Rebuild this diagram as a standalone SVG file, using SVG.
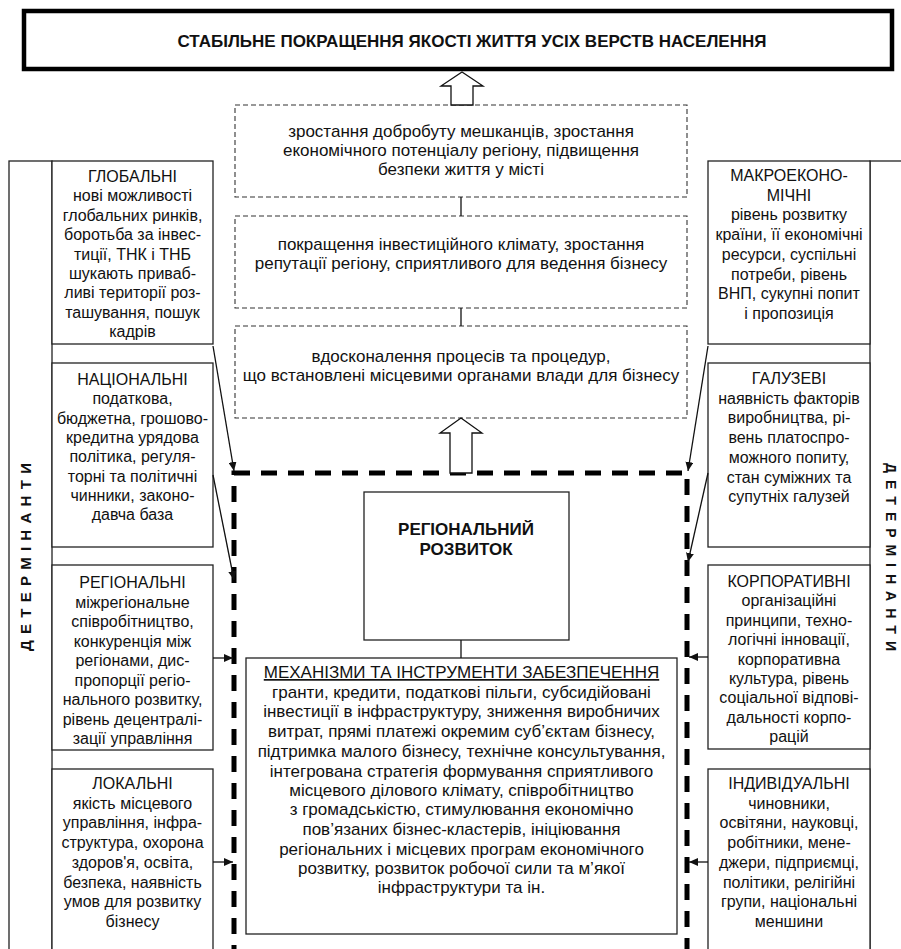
<svg xmlns="http://www.w3.org/2000/svg" width="901" height="949" viewBox="0 0 901 949">
<defs>
<style>
.t{font-family:"Liberation Sans",Arial,sans-serif;font-size:16px;fill:#111;text-anchor:middle}
.c{font-size:17px}
.b{font-weight:bold}
.box{fill:#fff;stroke:#222;stroke-width:1.3}
.dbox{fill:#fff;stroke:#333;stroke-width:1.1;stroke-dasharray:5 3}
.ln{stroke:#111;stroke-width:1.3;fill:none}
.hol{fill:#fff;stroke:#111;stroke-width:1.3}
.v{font-family:"Liberation Sans",Arial,sans-serif;font-size:15px;font-weight:bold;fill:#111;text-anchor:middle}
</style>
<marker id="ah" markerUnits="userSpaceOnUse" markerWidth="10" markerHeight="8" refX="9" refY="4" orient="auto">
<path d="M0,0 L9,4 L0,8 z" fill="#111"/>
</marker>
</defs>
<rect width="901" height="949" fill="#fff"/>

<g id="goal">
<rect x="24" y="11" width="868" height="58" fill="#fff" stroke="#000" stroke-width="4.5"/>
<text class="t b" x="472" y="47" style="font-size:17px" textLength="589" lengthAdjust="spacingAndGlyphs">СТАБІЛЬНЕ ПОКРАЩЕННЯ ЯКОСТІ ЖИТТЯ УСІХ ВЕРСТВ НАСЕЛЕННЯ</text>
</g>

<g id="result1">
<rect class="dbox" x="235" y="105" width="452" height="92"/>
<text class="t c" x="461" y="137">зростання добробуту мешканців, зростання</text>
<text class="t c" x="461" y="156">економічного потенціалу регіону, підвищення</text>
<text class="t c" x="461" y="175">безпеки життя у місті</text>
</g>
<g id="result2">
<rect class="dbox" x="235" y="216" width="452" height="92"/>
<text class="t c" x="461" y="250">покращення інвестиційного клімату, зростання</text>
<text class="t c" x="461" y="269">репутації регіону, сприятливого для ведення бізнесу</text>
</g>
<g id="result3">
<rect class="dbox" x="235" y="326" width="452" height="92"/>
<text class="t c" x="461" y="362">вдосконалення процесів та процедур,</text>
<text class="t c" x="461" y="381">що встановлені місцевими органами влади для бізнесу</text>
</g>

<g id="region-frame">
<rect x="234" y="473" width="453" height="520" fill="none" stroke="#000" stroke-width="5" stroke-dasharray="16 11"/>
</g>
<g id="regional-development">
<rect class="box" x="364" y="492" width="205" height="148"/>
<text class="t b c" x="466" y="535">РЕГІОНАЛЬНИЙ</text>
<text class="t b c" x="466" y="555">РОЗВИТОК</text>
</g>
<g id="mechanisms">
<rect class="box" x="246" y="658" width="431" height="276"/>
<text class="t c" x="461.5" y="678" text-decoration="underline">МЕХАНІЗМИ ТА ІНСТРУМЕНТИ ЗАБЕЗПЕЧЕННЯ</text>
<text class="t c" x="461.5" y="698">гранти, кредити, податкові пільги, субсидійовані</text>
<text class="t c" x="461.5" y="717">інвестиції в інфраструктуру, зниження виробничих</text>
<text class="t c" x="461.5" y="737">витрат, прямі платежі окремим суб’єктам бізнесу,</text>
<text class="t c" x="461.5" y="757">підтримка малого бізнесу, технічне консультування,</text>
<text class="t c" x="461.5" y="777">інтегрована стратегія формування сприятливого</text>
<text class="t c" x="461.5" y="796">місцевого ділового клімату, співробітництво</text>
<text class="t c" x="461.5" y="815">з громадськістю, стимулювання економічно</text>
<text class="t c" x="461.5" y="835">пов’язаних бізнес-кластерів, ініціювання</text>
<text class="t c" x="461.5" y="855">регіональних і місцевих програм економічного</text>
<text class="t c" x="461.5" y="874">розвитку, розвиток робочої сили та м’якої</text>
<text class="t c" x="461.5" y="893">інфраструктури та ін.</text>
</g>

<g id="left-label">
<rect class="box" x="9" y="161" width="43" height="800"/>
<text class="v" transform="translate(31,557) rotate(-90)" textLength="188" lengthAdjust="spacing">ДЕТЕРМІНАНТИ</text>
</g>
<g id="right-label">
<rect class="box" x="870" y="161" width="60" height="800"/>
<text class="v" style="font-size:14px" transform="translate(886,557) rotate(90)" textLength="188" lengthAdjust="spacing">ДЕТЕРМІНАНТИ</text>
</g>

<g id="global">
<rect class="box" x="52" y="161" width="161" height="183"/>
<text class="t" x="132.5" y="182">ГЛОБАЛЬНІ</text>
<text class="t" x="132.5" y="201.4">нові можливості</text>
<text class="t" x="132.5" y="220.8">глобальних ринків,</text>
<text class="t" x="132.5" y="240.2">боротьба за інвес-</text>
<text class="t" x="132.5" y="259.6">тиції, ТНК і ТНБ</text>
<text class="t" x="132.5" y="279">шукають приваб-</text>
<text class="t" x="132.5" y="298.4">ливі території роз-</text>
<text class="t" x="132.5" y="317.8">ташування, пошук</text>
<text class="t" x="132.5" y="337.2">кадрів</text>
</g>
<g id="national">
<rect class="box" x="52" y="363" width="161" height="184"/>
<text class="t" x="132.5" y="385">НАЦІОНАЛЬНІ</text>
<text class="t" x="132.5" y="404.3">податкова,</text>
<text class="t" x="132.5" y="423.6">бюджетна, грошово-</text>
<text class="t" x="132.5" y="442.9">кредитна урядова</text>
<text class="t" x="132.5" y="462.2">політика, регуля-</text>
<text class="t" x="132.5" y="481.5">торні та політичні</text>
<text class="t" x="132.5" y="500.8">чинники, законо-</text>
<text class="t" x="132.5" y="520.1">давча база</text>
</g>
<g id="regional">
<rect class="box" x="52" y="565" width="161" height="185"/>
<text class="t" x="132.5" y="588">РЕГІОНАЛЬНІ</text>
<text class="t" x="132.5" y="607.5">міжрегіональне</text>
<text class="t" x="132.5" y="627">співробітництво,</text>
<text class="t" x="132.5" y="646.5">конкуренція між</text>
<text class="t" x="132.5" y="666">регіонами, дис-</text>
<text class="t" x="132.5" y="685.5">пропорції регіо-</text>
<text class="t" x="132.5" y="705">нального розвитку,</text>
<text class="t" x="132.5" y="724.5">рівень децентралі-</text>
<text class="t" x="132.5" y="744">зації управління</text>
</g>
<g id="local">
<rect class="box" x="52" y="769" width="161" height="200"/>
<text class="t" x="132.5" y="789">ЛОКАЛЬНІ</text>
<text class="t" x="132.5" y="808.7">якість місцевого</text>
<text class="t" x="132.5" y="828.4">управління, інфра-</text>
<text class="t" x="132.5" y="848.1">структура, охорона</text>
<text class="t" x="132.5" y="867.8">здоров'я, освіта,</text>
<text class="t" x="132.5" y="887.5">безпека, наявність</text>
<text class="t" x="132.5" y="907.2">умов для розвитку</text>
<text class="t" x="132.5" y="926.9">бізнесу</text>
</g>

<g id="macroeconomic">
<rect class="box" x="708" y="161" width="162" height="183"/>
<text class="t" x="789" y="181">МАКРОЕКОНО-</text>
<text class="t" x="789" y="200.7">МІЧНІ</text>
<text class="t" x="789" y="220.4">рівень розвитку</text>
<text class="t" x="789" y="240.1">країни, її економічні</text>
<text class="t" x="789" y="259.8">ресурси, суспільні</text>
<text class="t" x="789" y="279.5">потреби, рівень</text>
<text class="t" x="789" y="299.2">ВНП, сукупні попит</text>
<text class="t" x="789" y="318.9">і пропозиція</text>
</g>
<g id="sectoral">
<rect class="box" x="708" y="363" width="162" height="184"/>
<text class="t" x="789" y="384">ГАЛУЗЕВІ</text>
<text class="t" x="789" y="403.7">наявність факторів</text>
<text class="t" x="789" y="423.4">виробництва, рі-</text>
<text class="t" x="789" y="443.1">вень платоспро-</text>
<text class="t" x="789" y="462.8">можного попиту,</text>
<text class="t" x="789" y="482.5">стан суміжних та</text>
<text class="t" x="789" y="502.2">супутніх галузей</text>
</g>
<g id="corporate">
<rect class="box" x="708" y="565" width="162" height="184"/>
<text class="t" x="789" y="587">КОРПОРАТИВНІ</text>
<text class="t" x="789" y="606.4">організаційні</text>
<text class="t" x="789" y="625.8">принципи, техно-</text>
<text class="t" x="789" y="645.2">логічні інновації,</text>
<text class="t" x="789" y="664.6">корпоративна</text>
<text class="t" x="789" y="684">культура, рівень</text>
<text class="t" x="789" y="703.4">соціальної відпові-</text>
<text class="t" x="789" y="722.8">дальності корпо-</text>
<text class="t" x="789" y="742.2">рацій</text>
</g>
<g id="individual">
<rect class="box" x="708" y="769" width="162" height="200"/>
<text class="t" x="789" y="789">ІНДИВІДУАЛЬНІ</text>
<text class="t" x="789" y="808.7">чиновники,</text>
<text class="t" x="789" y="828.4">освітяни, науковці,</text>
<text class="t" x="789" y="848.1">робітники, мене-</text>
<text class="t" x="789" y="867.8">джери, підприємці,</text>
<text class="t" x="789" y="887.5">політики, релігійні</text>
<text class="t" x="789" y="907.2">групи, національні</text>
<text class="t" x="789" y="926.9">меншини</text>
</g>

<g id="connectors">
<polygon class="hol" points="462,72 483,86 473,86 473,105 451,105 451,86 441,86"/>
<polygon class="hol" points="461,418 482,433 472,433 472,473 450,473 450,433 440,433"/>
<line class="ln" x1="461" y1="197" x2="461" y2="216"/>
<line class="ln" x1="461" y1="308" x2="461" y2="326"/>
<line class="ln" x1="461" y1="640" x2="461" y2="658"/>
<path class="ln" d="M213,346 L234,471" marker-end="url(#ah)"/>
<path class="ln" d="M213,475 L234,580" marker-end="url(#ah)"/>
<path class="ln" d="M213,658 L233,658" marker-end="url(#ah)"/>
<path class="ln" d="M213,862 L233,862" marker-end="url(#ah)"/>
<path class="ln" d="M708,346 L688,471" marker-end="url(#ah)"/>
<path class="ln" d="M708,473 L688,562" marker-end="url(#ah)"/>
<path class="ln" d="M708,657 L689,657" marker-end="url(#ah)"/>
<path class="ln" d="M708,862 L689,862" marker-end="url(#ah)"/>
</g>
</svg>
